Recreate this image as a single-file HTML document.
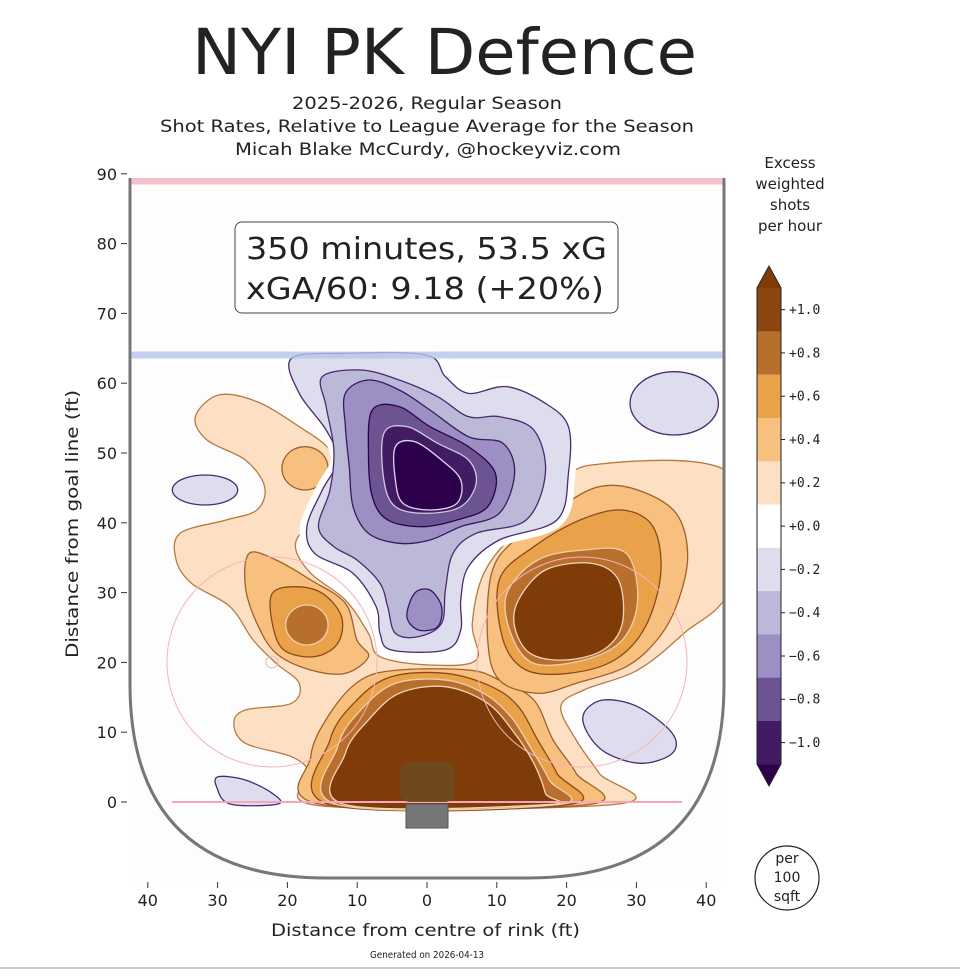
<!DOCTYPE html>
<html><head><meta charset="utf-8"><style>
body{margin:0;background:#fff;width:960px;height:972px;overflow:hidden}
svg text{font-family:"DejaVu Sans","Liberation Sans",sans-serif;fill:#222}
</style></head><body>
<svg id="s" width="960" height="972" viewBox="0 0 960 972" xmlns="http://www.w3.org/2000/svg">
<rect width="960" height="972" fill="#fff"/>
<text x="192" y="74" font-size="63" textLength="505" lengthAdjust="spacingAndGlyphs" fill="#111">NYI PK Defence</text>
<text x="292" y="109" font-size="16.5" textLength="270" lengthAdjust="spacingAndGlyphs">2025-2026, Regular Season</text>
<text x="160" y="132" font-size="16.5" textLength="534" lengthAdjust="spacingAndGlyphs">Shot Rates, Relative to League Average for the Season</text>
<text x="235" y="155" font-size="16.5" textLength="386" lengthAdjust="spacingAndGlyphs">Micah Blake McCurdy, @hockeyviz.com</text>
<defs><clipPath id="rk"><path d="M130,178 L130,684 Q130,878 326,878 L528,878 Q724,878 724,684 L724,178 Z"/></clipPath></defs>
<rect x="128" y="174" width="598" height="708" fill="#fdfdfd"/>
<g id="cont" clip-path="url(#rk)"></g>
<g clip-path="url(#rk)" fill="none">
<line x1="122" y1="181" x2="724" y2="181" stroke="#f4c2cc" stroke-width="7"/>
<line x1="130" y1="355" x2="724" y2="355" stroke="#b5c6ea" stroke-width="7" opacity="0.8"/>
<line x1="172" y1="802" x2="682" y2="802" stroke="#f2a8b8" stroke-width="2"/>
<circle cx="272" cy="662" r="105" stroke="#f6b4b4" stroke-width="1"/>
<circle cx="582" cy="662" r="105" stroke="#f6b4b4" stroke-width="1"/>
<circle cx="272" cy="662" r="6" stroke="#f6b4b4" stroke-width="1"/>
</g>
<rect x="400" y="762" width="55" height="40" rx="10" fill="#6f4a20" opacity="0.9"/>
<rect x="406" y="804" width="42" height="24" fill="#777" stroke="#555"/>
<path d="M130,178 L130,684 Q130,878 326,878 L528,878 Q724,878 724,684 L724,178" fill="none" stroke="#777" stroke-width="3"/>
<g font-size="16" text-anchor="end" id="yt"></g>
<g font-size="16" text-anchor="middle" id="xt"></g>
<text x="271" y="936" font-size="17" textLength="309" lengthAdjust="spacingAndGlyphs">Distance from centre of rink (ft)</text>
<text transform="translate(78,658) rotate(-90)" font-size="17" textLength="268" lengthAdjust="spacingAndGlyphs">Distance from goal line (ft)</text>
<text x="370" y="958" font-size="10" textLength="114" lengthAdjust="spacingAndGlyphs">Generated on 2026-04-13</text>
<rect x="235" y="222" width="383" height="91" rx="7" fill="#fff" stroke="#444" stroke-width="1"/>
<text x="246" y="259" font-size="30" textLength="361" lengthAdjust="spacingAndGlyphs" fill="#111">350 minutes, 53.5 xG</text>
<text x="246" y="299" font-size="30" textLength="358" lengthAdjust="spacingAndGlyphs" fill="#111">xGA/60: 9.18 (+20%)</text>
<g font-size="15" text-anchor="middle"><text x="790" y="168">Excess</text><text x="790" y="189">weighted</text><text x="790" y="210">shots</text><text x="790" y="231">per hour</text></g>
<g id="cb"></g>
<circle cx="787" cy="878" r="32" fill="#fff" stroke="#222" stroke-width="1.2"/>
<g font-size="14" text-anchor="middle"><text x="787" y="863">per</text><text x="787" y="882">100</text><text x="787" y="901">sqft</text></g>
<line x1="0" y1="968" x2="960" y2="968" stroke="#999"/>
</svg>
<script>
const NS="http://www.w3.org/2000/svg";
function el(t,a,p){const e=document.createElementNS(NS,t);for(const k in a)e.setAttribute(k,a[k]);p.appendChild(e);return e;}
const T=p=>[130+p[0]/2.6,340+p[1]/3];
function sm(pts){pts=pts.map(T);const n=pts.length;let d="M"+pts[0].join(",");for(let i=0;i<n;i++){const p0=pts[(i-1+n)%n],p1=pts[i],p2=pts[(i+1)%n],p3=pts[(i+2)%n];const c1=[p1[0]+(p2[0]-p0[0])/6,p1[1]+(p2[1]-p0[1])/6],c2=[p2[0]-(p3[0]-p1[0])/6,p2[1]-(p3[1]-p1[1])/6];d+="C"+c1.join(",")+" "+c2.join(",")+" "+p2.join(",");}return d+"Z";}
function ell(cx,cy,rx,ry){const a=[];for(let i=0;i<12;i++){const t=i/12*2*Math.PI;a.push([cx+rx*Math.cos(t),cy+ry*Math.sin(t)]);}return a;}
const C={o2:"#fde0c3",o4:"#f8c07e",o6:"#eaa24a",o8:"#b86e2c",o10:"#7f3b08",p2:"#dedded",p4:"#bcb8d8",p6:"#9c8fc3",p8:"#6c5392",p10:"#421b63",p12:"#2d004b"};
const S={o2:"#b87a40",o4:"#a0602a",o6:"#8a4a18",o8:"#f0d0b0",o10:"#f3d6b8",p2:"#4a2a70",p4:"#4a2a70",p6:"#3a1a60",p8:"#2d004b",p10:"#cfc8e0",p12:"#e0d8ee"};
const L=[
["o2",[[170,230],[230,165],[330,185],[440,260],[520,330],[550,420],[530,500],[460,560],[430,620],[470,700],[560,780],[620,880],[650,950],[780,975],[900,960],[890,850],[920,700],[1000,580],[1120,460],[1200,375],[1560,400],[1560,740],[1440,880],[1320,990],[1180,1050],[1120,1100],[1160,1200],[1220,1300],[1270,1392],[500,1398],[470,1300],[420,1250],[300,1210],[270,1150],[300,1110],[420,1090],[440,1030],[380,970],[320,900],[260,800],[160,730],[120,660],[130,580],[250,540],[330,510],[350,440],[300,360],[200,300]]],
["o4",ell(455,385,60,65)],
["o4",[[310,640],[380,660],[470,720],[560,790],[590,900],[620,950],[560,1000],[470,990],[380,940],[330,850],[300,740]]],
["o4",[[500,1394],[470,1250],[520,1120],[600,1020],[700,990],[880,990],[960,1020],[1050,1080],[1100,1200],[1160,1300],[1190,1394]]],
["o4",[[940,700],[1000,600],[1120,500],[1220,440],[1320,450],[1420,520],[1450,650],[1420,800],[1370,900],[1290,980],[1160,1030],[1060,1060],[960,1020],[930,900]]],
["o6",[[370,760],[430,740],[500,760],[550,830],[540,910],[480,950],[400,930],[370,850]]],
["o8",ell(460,855,55,60)],
["o6",[[960,720],[1050,620],[1170,540],[1280,510],[1360,560],[1380,700],[1340,860],[1260,960],[1140,1000],[1030,990],[970,900]]],
["o8",[[980,760],[1060,660],[1180,630],[1290,640],[1320,780],[1280,900],[1180,960],[1050,970],[990,880]]],
["o10",[[1010,780],[1080,690],[1200,670],[1270,720],[1280,850],[1230,930],[1130,960],[1040,940],[1000,860]]],
["o6",[[520,1394],[520,1200],[590,1080],[680,1010],[820,1000],[940,1040],[1010,1100],[1060,1200],[1110,1300],[1140,1394]]],
["o8",[[540,1394],[540,1220],[600,1110],[690,1030],[820,1020],[920,1060],[990,1130],[1040,1220],[1090,1320],[1110,1394]]],
["o10",[[560,1394],[560,1240],[620,1140],[700,1060],[820,1040],[930,1090],[1000,1180],[1050,1270],[1080,1360],[1080,1394]]],
["p2w",[[420,55],[560,40],[770,45],[820,110],[880,160],[980,140],[1080,190],[1140,260],[1140,400],[1110,540],[960,600],[880,680],[860,780],[860,870],[820,930],[680,930],[650,880],[640,800],[580,700],[480,640],[460,560],[500,450],[540,360],[510,270],[440,160]]],
["p4",[[500,110],[600,90],[700,120],[800,170],[880,230],[960,230],[1050,270],[1080,400],[1030,540],[900,580],[840,640],[820,750],[810,850],[750,890],[690,880],[670,800],[650,730],[590,660],[530,620],[490,560],[520,450],[530,330],[510,200]]],
["p6",[[560,160],[620,120],[700,150],[780,210],[880,290],[970,310],[1000,400],[960,520],[860,560],[780,600],[700,610],[620,580],[580,500],[570,380],[560,260]]],
["p6",[[740,760],[780,750],[810,800],[800,860],[750,870],[720,830]]],
["p8",[[630,210],[700,200],[780,260],[880,320],[950,400],[930,500],[850,540],[760,560],[670,540],[630,470],[620,340]]],
["p10",[[660,280],[720,260],[800,310],[880,360],[900,430],[860,500],[770,520],[690,500],[660,420]]],
["p12",[[690,320],[740,305],[810,360],[860,420],[850,490],[780,510],[710,490],[690,420]]],
["p2",ell(1415,190,115,95)],
["p2",ell(195,450,85,45)],
["p2",[[1180,1120],[1230,1080],[1320,1100],[1410,1180],[1410,1240],[1330,1270],[1240,1240],[1190,1180]]],
["p2",[[230,1310],[300,1320],[370,1360],[385,1392],[260,1392],[225,1340]]]
];
const g=document.getElementById("cont");
for(const [k,p] of L){const d=sm(p);let kk=k;if(k==="p2w"){el("path",{d,fill:"#fff",stroke:"#fff","stroke-width":14},g);kk="p2";}
el("path",{d,fill:C[kk],stroke:S[kk],"stroke-width":1.3},g);}
const yt=document.getElementById("yt");
for(let v=0;v<=90;v+=10){const y=802-v*6.98;el("line",{x1:121,y1:y,x2:127,y2:y,stroke:"#333"},yt);el("text",{x:117,y:y+6},yt).textContent=v;}
const xt=document.getElementById("xt");
for(let v=-40;v<=40;v+=10){const x=427+v*6.98;el("line",{x1:x,y1:882,x2:x,y2:888,stroke:"#333"},xt);el("text",{x:x,y:906},xt).textContent=Math.abs(v);}
const cb=document.getElementById("cb");
const cc=["#8a4510","#b86e2c","#eaa24a","#f8c07e","#fde0c3","#ffffff","#dedded","#bcb8d8","#9c8fc3","#6c5392","#421b63"];
const lb=["+1.0","+0.8","+0.6","+0.4","+0.2","+0.0","\u22120.2","\u22120.4","\u22120.6","\u22120.8","\u22121.0"];
el("path",{d:"M757,288 L769,266 L781,288 Z",fill:"#7f3b08"},cb);
el("path",{d:"M757,764 L769,786 L781,764 Z",fill:"#2d004b"},cb);
for(let i=0;i<11;i++){const y=288+i*43.3;el("rect",{x:757,y:y,width:24,height:43.6,fill:cc[i]},cb);
el("line",{x1:781,y1:y+21.6,x2:785,y2:y+21.6,stroke:"#222"},cb);
const t=el("text",{x:789,y:y+26,"font-size":13,style:"font-family:'DejaVu Sans Mono','Liberation Mono',monospace"},cb);t.textContent=lb[i];}
el("path",{d:"M757,288 L769,266 L781,288 L781,764 L769,786 L757,764 Z",fill:"none",stroke:"#222","stroke-width":1},cb);
</script>
</body></html>
